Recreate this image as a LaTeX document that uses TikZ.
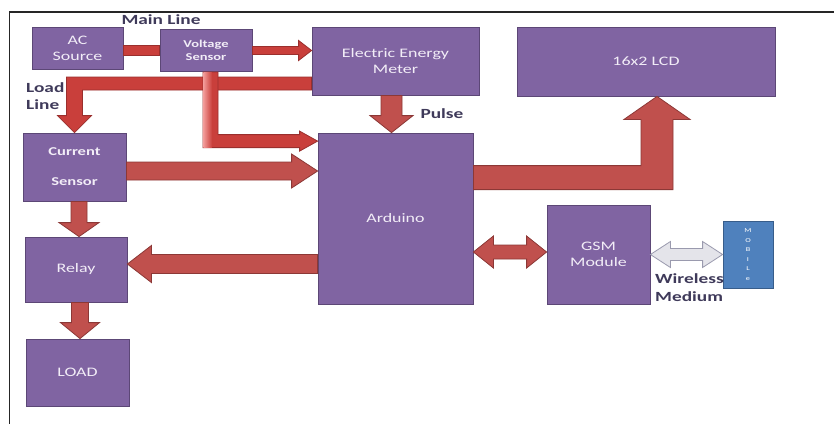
\documentclass[tikz,border=0pt]{standalone}
\usepackage{fontspec}
\setmainfont{Carlito}[FakeStretch=1.38]
\usetikzlibrary{calc}
\definecolor{boxfill}{HTML}{8064A2}
\definecolor{boxline}{HTML}{5C4776}
\definecolor{boxtext}{HTML}{F2EDF7}
\definecolor{arrfill}{HTML}{C0504D}
\definecolor{arrline}{HTML}{8C3836}
\definecolor{thinfill}{HTML}{C93F3B}
\definecolor{thinline}{HTML}{9A2F2D}
\definecolor{thinlight}{HTML}{F29A98}
\definecolor{mobfill}{HTML}{4F81BD}
\definecolor{mobline}{HTML}{385D8A}
\definecolor{lbl}{HTML}{3F3A5A}
\definecolor{greyfill}{HTML}{E4E4EA}
\definecolor{greyline}{HTML}{9A9AAE}
\tikzset{
 blk/.style={draw=boxline, line width=0.8pt, fill=boxfill, text=boxtext, inner sep=0pt, align=center, font=\fontsize{13}{16}\selectfont},
 redarrow/.style={fill=arrfill, draw=arrline, line width=0.8pt, line join=miter},
 thinarrow/.style={fill=thinfill, draw=thinline, line width=0.8pt, line join=miter},
 greyarrow/.style={fill=greyfill, draw=greyline, line width=0.8pt},
 lab/.style={text=lbl, font=\bfseries\fontsize{14}{17}\selectfont, inner sep=0pt, align=left},
}
\newcommand\blockarrow[6][redarrow]{%
 \coordinate (bxA) at #2;
 \coordinate (bxB) at #3;
 \coordinate (bxH) at ($(bxB)!#6!(bxA)$);
 \draw[#1] ($(bxA)!#4!90:(bxB)$) -- ($(bxH)!#4!90:(bxB)$) -- ($(bxH)!#5!90:(bxB)$) -- (bxB) -- ($(bxH)!#5!-90:(bxB)$) -- ($(bxH)!#4!-90:(bxB)$) -- ($(bxA)!#4!-90:(bxB)$) -- cycle;}
\newcommand\dblarrow[6][redarrow]{%
 \coordinate (bxA) at #2;
 \coordinate (bxB) at #3;
 \coordinate (bxH) at ($(bxA)!#6!(bxB)$);
 \coordinate (bxK) at ($(bxB)!#6!(bxA)$);
 \draw[#1] (bxA) -- ($(bxH)!#5!90:(bxB)$) -- ($(bxH)!#4!90:(bxB)$) -- ($(bxK)!#4!90:(bxB)$) -- ($(bxK)!#5!90:(bxB)$) -- (bxB) -- ($(bxK)!#5!-90:(bxB)$) -- ($(bxK)!#4!-90:(bxB)$) -- ($(bxH)!#4!-90:(bxB)$) -- ($(bxH)!#5!-90:(bxB)$) -- cycle;}
\begin{document}
\begin{tikzpicture}[x=1pt,y=-1pt]
\useasboundingbox (0,0) rectangle (834,424);
\fill[white] (0,0) rectangle (834,424);
\draw[line width=1.5pt, black!85] (834,12) -- (9.5,12) -- (9.5,424);

\node[blk, minimum width=91pt, minimum height=42pt] (ac) at (77.5,48) {AC\\Source};
\node[blk, minimum width=92pt, minimum height=42pt, font=\bfseries\fontsize{10.5}{13}\selectfont] (vs) at (206,50.5) {Voltage\\Sensor};
\node[blk, minimum width=167pt, minimum height=68pt] (eem) at (395.5,61) {Electric Energy\\Meter};
\node[blk, minimum width=258pt, minimum height=69pt] (lcd) at (646,61.5) {16x2 LCD};
\node[blk, minimum width=103pt, minimum height=68pt, font=\bfseries\fontsize{12}{30}\selectfont] (curr) at (74.5,167) {Current\\Sensor};
\node[blk, minimum width=155pt, minimum height=171pt] (ard) at (395.5,218.5) {Arduino};
\node[blk, minimum width=102pt, minimum height=65pt] (relay) at (76,269.5) {Relay};
\node[blk, minimum width=103pt, minimum height=67pt] (load) at (77.5,372.5) {LOAD};
\node[blk, minimum width=103pt, minimum height=99pt] (gsm) at (598.5,254.5) {GSM\\Module};
\node[blk, fill=mobfill, draw=mobline, text=white, minimum width=50pt, minimum height=67pt, font=\fontsize{6}{9.5}\selectfont] (mob) at (748,254.5) {M\\O\\B\\I\\L\\e};

% AC - Voltage sensor
\path[thinarrow] let \p1=(ac.east), \p2=(vs.west) in (\x1,\y2+5pt) rectangle (\x2,\y2-5pt);
% Voltage sensor -> meter
\coordinate (s2) at (vs.east);
\blockarrow[thinarrow]{(s2)}{(s2 -| eem.west)}{4pt}{10pt}{13pt}
% load line
\draw[thinarrow] let \p1=(eem.west), \p2=(curr.north) in (\x1,\y1-16pt) -- (\x2-8pt,\y1-16pt) -- (\x2-8pt,\y2+17pt) -- (\x2-17pt,\y2+17pt) -- (\x2,\y2) -- (\x2+17pt,\y2+17pt) -- (\x2+8pt,\y2+17pt) -- (\x2+8pt,\y1-29pt) -- (\x1,\y1-29pt) -- cycle;
% voltage sensor -> arduino
\draw[thinarrow] let \p1=(vs.south), \p2=(ard.north west), \p3=($(ard.north west)+(0,8.5)$) in (\x1-3pt,\y1) -- (\x1-3pt,\y3-6.5pt) -- (\x2-18pt,\y3-6.5pt) -- (\x2-18pt,\y3-10pt) -- (\x2,\y3) -- (\x2-18pt,\y3+10pt) -- (\x2-18pt,\y3+6.5pt) -- (\x1+12pt,\y3+6.5pt) -- (\x1+12pt,\y1) -- cycle;
\shade[left color=thinlight, right color=thinfill] let \p1=(vs.south), \p3=($(ard.north west)+(0,8.5)$) in (\x1-2.6pt,\y1-0.5pt) rectangle (\x1+6pt,\y3-6pt);
% current sensor -> arduino
\coordinate (s5) at ($(curr.east)+(0,4)$);
\blockarrow{(s5)}{(s5 -| ard.west)}{9pt}{17pt}{26pt}
% meter -> arduino (pulse)
\coordinate (s6) at ($(eem.south)+(-4,0)$);
\blockarrow{(s6)}{(s6 |- ard.north)}{10.5pt}{21.5pt}{17pt}
% arduino -> LCD
\draw[redarrow] let \p1=(ard.north east), \p2=($(lcd.south)+(11,0)$) in (\x1,\y1-33pt) -- (\x2-16pt,\y1-33pt) -- (\x2-16pt,\y2-23pt) -- (\x2-33pt,\y2-23pt) -- (\x2,\y2) -- (\x2+33pt,\y2-23pt) -- (\x2+16pt,\y2-23pt) -- (\x2+16pt,\y1-57pt) -- (\x1,\y1-57pt) -- cycle;
% current sensor -> relay
\coordinate (s8) at ($(curr.south)+(4.5,0)$);
\blockarrow{(s8)}{(s8 |- relay.north)}{8pt}{20pt}{14pt}
% relay -> load
\coordinate (s9) at ($(relay.south)+(4,0)$);
\blockarrow{(s9)}{(s9 |- load.north)}{8.5pt}{19.5pt}{16pt}
% arduino -> relay
\coordinate (s10) at ($(ard.west)+(0,45.5)$);
\blockarrow{(s10)}{(s10 -| relay.east)}{9.5pt}{18.5pt}{24pt}
% arduino <-> GSM
\coordinate (s11) at ($(gsm.west)+(0,-2.5)$);
\dblarrow{(s11 -| ard.east)}{(s11)}{7pt}{16pt}{20pt}
% GSM <-> mobile
\dblarrow[greyarrow]{(gsm.east)}{(mob.west)}{6pt}{13pt}{20pt}

\node[lab] (mainl) at (161,20) {Main Line};
\node[lab, anchor=west, font=\bfseries\fontsize{14}{16.5}\selectfont] (loadl) at (26,96) {Load\\Line};
\node[lab] (pulse) at (442,114) {Pulse};
\node[lab, anchor=west, font=\bfseries\fontsize{14}{18}\selectfont] (wire) at (655,288) {Wireless\\Medium};
\end{tikzpicture}
\end{document}
